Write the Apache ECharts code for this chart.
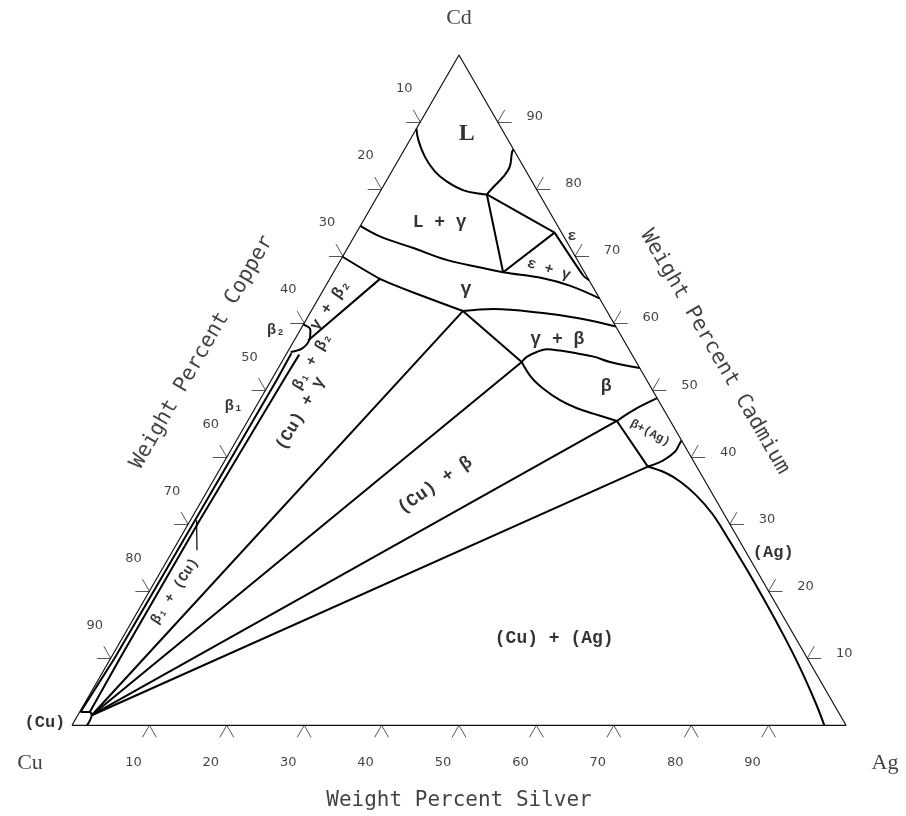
<!DOCTYPE html>
<html><head><meta charset="utf-8">
<script src="https://cdn.jsdelivr.net/npm/echarts/dist/echarts.min.js"></script>
<style>html,body{margin:0;padding:0;background:#fff}#c{width:906px;height:816px}</style>
</head><body><div id="c"></div>
<script>
// ---- Ternary data: each point is [Ag wt%, Cd wt%] (Cu = 100 - Ag - Cd) ----
const tickValues = [10, 20, 30, 40, 50, 60, 70, 80, 90];

const liquidusLeft   = [[0,89.0],[1.1,87.3],[3.2,84.8],[5.6,82.6],[7.9,81.1],[10.7,79.8],[13.1,79.3],[14.0,79.2]];
const liquidusRight  = [[14.0,79.2],[14.3,80.3],[14.8,81.8],[14.9,83.3],[14.1,85.5],[14.1,85.9]];
const tieLGamma      = [[14.0,79.2],[21.9,67.6]];
const tieLEps        = [[14.0,79.2],[25.6,73.5]];
const tieGammaEps    = [[21.9,67.6],[25.6,73.5]];
const epsSolvus      = [[25.6,73.5],[32.5,67.1],[33.6,66.4]];
const gammaUpper     = [[0,74.5],[3.4,72.9],[8.5,71.2],[13.8,69.4],[18.6,68.3],[21.9,67.6],[27.5,66.7],[31.5,65.6],[36.3,63.7]];
const gammaLowerLeft = [[0,69.9],[6.5,66.6],[11.7,64.6],[19.6,61.8]];
const gammaLowerRight= [[19.6,61.8],[23.4,62.1],[30.1,61.5],[35.3,60.7],[40.5,59.5]];
const tieGammaBeta2  = [[6.5,66.6],[1.8,57.4]];
const tieGammaBeta   = [[19.6,61.8],[31.0,54.2]];
const betaUpper      = [[31.0,54.2],[31.3,55.0],[32.2,55.7],[33.3,56.1],[35.1,55.9],[37.4,55.5],[39.9,55.0],[42.4,54.2],[46.7,53.3]];
const betaLower      = [[31.0,54.2],[33.4,51.9],[35.8,50.2],[38.8,48.5],[41.6,47.3],[44.1,46.5],[47.7,45.4]];
const betaAgSolvus   = [[47.7,45.4],[49.0,47.0],[51.2,48.8]];
const tieBetaAg      = [[47.7,45.4],[55.1,38.6]];
const agBetaSolvus   = [[55.1,38.6],[56.6,39.5],[57.5,40.8],[57.5,42.0],[57.5,42.5]];
const agSolvus       = [[55.1,38.6],[58.0,37.6],[60.5,36.3],[63.5,34.3],[66.9,31.6],[70.6,28.1],[75.2,23.6],[79.7,19.1],[84.1,14.6],[89.2,9.2],[94.1,3.7],[97.2,0]];
const cuSolvus       = [[0.1,2.0],[1.3,2.0],[1.8,1.5],[1.95,0.7],[1.95,0]];
const beta2Field     = [[0,59.8],[1.3,59.0],[1.9,57.6],[1.6,56.2],[0.4,55.7]];
const beta1Left      = [[0.6,55.5],[0.7,51.5],[0.6,30.6],[0.5,10.0],[0.1,2.0]];
const beta1Right     = [[1.7,55.3],[1.6,51.5],[1.2,30.6],[1.2,10.0],[1.3,2.0]];
const tieCuGamma     = [[1.8,1.5],[19.6,61.8]];
const tieCuBeta      = [[1.8,1.5],[31.0,54.2]];
const tieCuBetaAg    = [[1.8,1.5],[47.7,45.4]];
const tieCuAg        = [[1.8,1.5],[55.1,38.6]];
const leaderBeta1Cu  = [[0.8,30.6],[3.1,26.1]];
const frame          = [[0,0],[100,0],[0,100],[0,0]];

const phaseNames = ['L','L + γ','ε','ε + γ','γ','γ + β','β','β+(Ag)','(Cu) + β','(Cu) + (Ag)','(Ag)','β₂','β₁','γ + β₂','β₁ + β₂','(Cu) + γ','β₁ + (Cu)','(Cu)'];
const phaseAt    = [[6.9,88.2],[10.0,75.0],[28.1,73.0],[27.6,68.0],[18.4,65.0],[33.9,57.6],[43.7,50.6],[52.9,43.6],[29.0,35.8],[55.8,13.0],[77.7,25.8],[-3.1,58.9],[-2.9,47.6],[2.0,62.7],[3.9,54.3],[6.3,46.5],[3.3,20.0],[-3.7,0.4]];

const cornerNames = ['Cd','Cu','Ag'];
const cornerAt    = [[0,100],[0,0],[100,0]];
const axisTitles  = ['Weight Percent Silver','Weight Percent Copper','Weight Percent Cadmium'];
const axisTitleAt = [[50,0],[0,50],[50,50]];

// ---- styles ----
const phaseRotate = [0,0,0,-17,0,0,0,-28,35,0,0,0,0,55,60,60,57,0];
const phaseSize   = [24,18,15,15,19,18,18,12,18,18,17,15,15,16,15,17,14,17];
const phaseFont   = ['Liberation Serif'];
const cornerOffset = [[0,-37],[-42,38],[39,38]];
const titleOffset  = [[0,75],[1,-74],[-2,-73]];   // label frame (rotated with text)
const titleRotate  = [0,60,-60];

const S3 = Math.sqrt(3) / 2;
const toXY = p => [p[0] + p[1] / 2, p[1] * S3];

const boundaries = [
  [liquidusLeft,0.4],[liquidusRight,0.4],[tieLGamma,0],[tieLEps,0],[tieGammaEps,0],[epsSolvus,0.2],
  [gammaUpper,0.4],[gammaLowerLeft,0.2],[gammaLowerRight,0.4],[tieGammaBeta2,0],[tieGammaBeta,0],
  [betaUpper,0.4],[betaLower,0.4],[betaAgSolvus,0.4],[tieBetaAg,0],[agBetaSolvus,0.4],[agSolvus,0.4],
  [cuSolvus,0.3],[beta2Field,0.3],[beta1Left,0],[beta1Right,0],
  [tieCuGamma,0],[tieCuBeta,0],[tieCuBetaAg,0],[tieCuAg,0]
];

const series = [];
series.push({type:'line', data: frame.map(toXY), symbol:'none', silent:true, clip:false,
  lineStyle:{color:'#111', width:1.2}});
boundaries.forEach(([pts, sm]) => series.push({type:'line', data: pts.map(toXY), symbol:'none',
  smooth: sm, silent:true, clip:false, lineStyle:{color:'#000', width:2}}));
series.push({type:'line', data: leaderBeta1Cu.map(toXY), symbol:'none', silent:true, clip:false,
  lineStyle:{color:'#000', width:1.2}});

// tick marks (short extensions of the ternary grid lines outside the triangle)
const t = 1.8;
const tickSegs = [];
tickValues.forEach(v => {
  const b = [v,0];            tickSegs.push([b,[v,-t]], [b,[v+t,-t]]);
  const l = [0,100-v];        tickSegs.push([l,[-t,100-v]], [l,[-t,100-v+t]]);
  const r = [100-v,v];        tickSegs.push([r,[100-v+t,v]], [r,[100-v,v+t]]);
});
series.push({type:'lines', coordinateSystem:'cartesian2d', silent:true, clip:false,
  lineStyle:{color:'#555', width:1, opacity:1},
  data: tickSegs.map(s => ({coords: s.map(toXY)}))});

// tick labels
const tickLabelData = [];
tickValues.forEach(v => {
  tickLabelData.push({value: toXY([v,0]), name: String(v), label:{offset:[-16,37]}});
  tickLabelData.push({value: toXY([0,100-v]), name: String(v), label:{offset:[-16,-33]}});
  tickLabelData.push({value: toXY([100-v,v]), name: String(v), label:{offset:[37,-5]}});
});
series.push({type:'scatter', symbolSize:0, silent:true, clip:false, data: tickLabelData,
  label:{show:true, position:'inside', formatter: p => p.name, color:'#111',
    fontFamily:'DejaVu Sans', fontSize:13}});

// corner + axis titles
series.push({type:'scatter', symbolSize:0, silent:true, clip:false,
  data: cornerNames.map((n,i) => ({value: toXY(cornerAt[i]), name:n, label:{offset: cornerOffset[i]}})),
  label:{show:true, position:'inside', formatter:p=>p.name, color:'#111', fontFamily:'Liberation Serif', fontSize:22}});
series.push({type:'scatter', symbolSize:0, silent:true, clip:false,
  data: axisTitles.map((n,i) => ({value: toXY(axisTitleAt[i]), name:n, label:{offset: titleOffset[i], rotate: titleRotate[i]}})),
  label:{show:true, position:'inside', formatter:p=>p.name, color:'#111', fontFamily:'DejaVu Sans Mono', fontSize:21}});

// phase labels
series.push({type:'scatter', symbolSize:0, silent:true, clip:false,
  data: phaseNames.map((n,i) => ({value: toXY(phaseAt[i]), name:n,
    label:{rotate: phaseRotate[i], fontSize: phaseSize[i], fontFamily: phaseFont[i] || 'Liberation Mono'}})),
  label:{show:true, position:'inside', formatter:p=>p.name, color:'#000', fontWeight:'bold'}});

const chart = echarts.init(document.getElementById('c'), null, {renderer:'canvas'});
chart.setOption({
  animation:false,
  backgroundColor:'#fff',
  grid:{left:72, top:55, width:774, height:670.3, containLabel:false},
  xAxis:{type:'value', min:0, max:100, show:false},
  yAxis:{type:'value', min:0, max:100*S3, show:false},
  series
});
</script></body></html>
